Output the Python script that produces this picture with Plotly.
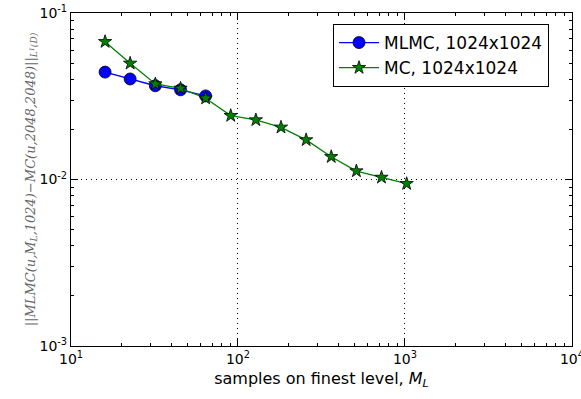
import plotly.graph_objects as go

samples_mlmc = [16, 22.6, 32, 45.3, 64]
err_mlmc = [0.0442, 0.0402, 0.0366, 0.0346, 0.0318]

samples_mc = [16, 22.6, 32, 45.3, 64, 90.5, 128, 181, 256, 362, 512, 724, 1024]
err_mc = [0.0673, 0.0499, 0.0375, 0.0353, 0.0308, 0.0242, 0.0228, 0.0206,
          0.0173, 0.0137, 0.01125, 0.0103, 0.00944]

xticks = [10, 100, 1000, 10000]
xticktext = ["10<sup>1</sup>", "10<sup>2</sup>", "10<sup>3</sup>", "10<sup>4</sup>"]
yticks = [0.001, 0.01, 0.1]
yticktext = ["10<sup>-3</sup>", "10<sup>-2</sup>", "10<sup>-1</sup>"]

x_minor = [m * d for d in (10, 100, 1000) for m in range(2, 10)]
y_minor = [m * d for d in (0.001, 0.01) for m in range(2, 10)]

fig = go.Figure()
fig.add_trace(go.Scatter(
    x=samples_mlmc, y=err_mlmc, mode="lines+markers", name="MLMC, 1024x1024",
    line=dict(color="blue", width=1.3),
    marker=dict(symbol="circle", size=12, color="blue", line=dict(color="black", width=0.8)),
))
fig.add_trace(go.Scatter(
    x=samples_mc, y=err_mc, mode="lines+markers", name="MC, 1024x1024",
    line=dict(color="green", width=1.3),
    marker=dict(symbol="star", size=10, color="green", line=dict(color="black", width=0.8)),
))
# invisible trace to activate the minor-tick overlay axes
fig.add_trace(go.Scatter(x=[100], y=[0.01], xaxis="x2", yaxis="y2", mode="none",
                         showlegend=False, hoverinfo="skip"))

axis_common = dict(
    type="log", showline=True, linecolor="black", linewidth=1.2, mirror="allticks",
    ticks="inside", ticklen=7, tickcolor="black", tickwidth=1,
    showgrid=True, gridcolor="black", griddash="1px,4px", gridwidth=1,
    zeroline=False, automargin=False, ticklabeloverflow="allow",
    tickfont=dict(family="DejaVu Sans", size=14, color="black"),
)

fig.update_layout(
    xaxis=dict(**axis_common, range=[1, 4.0005], tickvals=xticks, ticktext=xticktext,
               title=dict(text="samples on finest level, <i>M<sub>L</sub></i>",
                          font=dict(family="DejaVu Sans", size=16, color="black"), standoff=6)),
    yaxis=dict(**axis_common, range=[-3, -0.9995], tickvals=yticks, ticktext=yticktext,
               title=dict(text="<i>||MLMC(u,M<sub>L</sub>,1024)−MC(u,2048,2048)||<sub>L<sup>1</sup>(D)</sub></i>",
                          font=dict(family="DejaVu Serif", size=13, color="#666666"), standoff=0)),
    xaxis2=dict(type="log", range=[1, 4.0005], overlaying="x", anchor="y2", side="bottom",
                tickvals=x_minor, ticks="inside", ticklen=3, tickcolor="black", tickwidth=1,
                showticklabels=False, showgrid=False, showline=False, zeroline=False,
                mirror="ticks", automargin=False),
    yaxis2=dict(type="log", range=[-3, -0.9995], overlaying="y", anchor="x2", side="left",
                tickvals=y_minor, ticks="inside", ticklen=3, tickcolor="black", tickwidth=1,
                showticklabels=False, showgrid=False, showline=False, zeroline=False,
                mirror="ticks", automargin=False),
    width=581, height=399,
    margin=dict(l=71, r=9, t=13, b=53),
    paper_bgcolor="white", plot_bgcolor="white",
    showlegend=True,
    legend=dict(x=0.523, y=0.967, xanchor="left", yanchor="top",
                bgcolor="white", bordercolor="black", borderwidth=1,
                font=dict(family="DejaVu Sans", size=17, color="black"),
                itemwidth=40, tracegroupgap=0),
)

fig.write_html("out.html", config={"displayModeBar": False},
               post_script="document.body.style.margin='0';")
